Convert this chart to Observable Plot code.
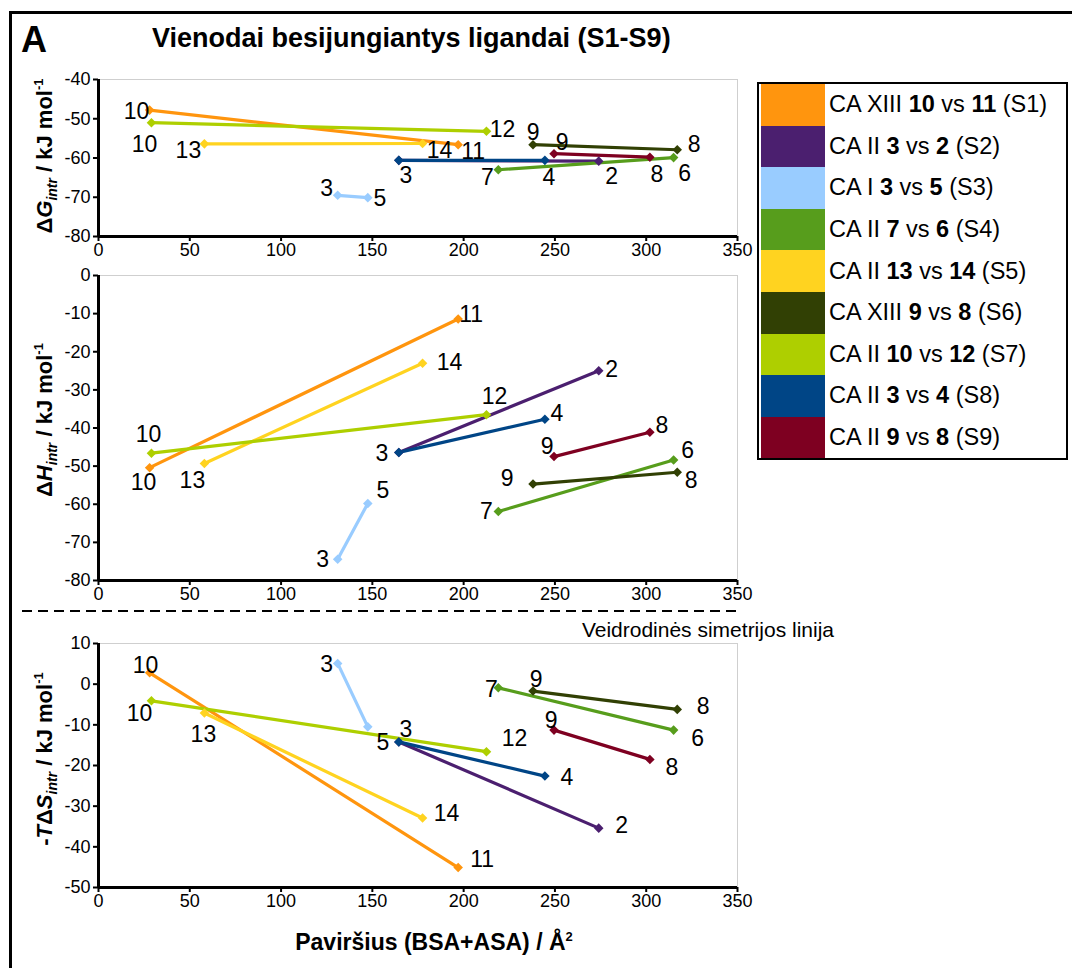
<!DOCTYPE html>
<html><head><meta charset="utf-8">
<script src="https://cdn.jsdelivr.net/npm/d3@7"></script>
<script src="https://cdn.jsdelivr.net/npm/@observablehq/plot@0.6"></script>
<style>
body{margin:0;background:#fff;font-family:"Liberation Sans",Arial,sans-serif;}
#fig{position:relative;width:1072px;height:968px;overflow:hidden;background:#fff;}
.abs{position:absolute;}
.ylab{position:absolute;font-weight:bold;font-size:22px;white-space:nowrap;transform:translate(-50%,-50%) rotate(-90deg);line-height:1;}
.sub{font-size:14px;position:relative;top:5px;font-style:italic;}
.sup{font-size:13px;position:relative;top:-9px;}
#legend{position:absolute;left:757px;top:82px;width:307px;border:2px solid #000;background:#fff;}
.lrow{display:flex;height:41.6px;align-items:center;}
.sw{width:64px;height:100%;margin-left:2px;}
.lt{font-size:23.5px;margin-left:4px;white-space:nowrap;}
</style>
</head><body>
<div id="fig">
  <div class="abs" style="left:9px;top:11px;width:1100px;height:1000px;border-left:3px solid #000;border-top:3px solid #000;"></div>
  <div class="abs" style="left:21px;top:22px;font-size:36px;font-weight:bold;line-height:1;">A</div>
  <div class="abs" style="left:152px;top:25px;font-size:27px;font-weight:bold;white-space:nowrap;line-height:1;">Vienodai besijungiantys ligandai (S1-S9)</div>
</div>
<script>
// ---- data ----
const seriesNames = ["S1","S2","S3","S4","S5","S6","S7","S8","S9"];
const enzymes     = ["CA XIII","CA II","CA I","CA II","CA II","CA XIII","CA II","CA II","CA II"];
const ligandFrom  = ["10","3","3","7","13","9","10","3","9"];
const ligandTo    = ["11","2","5","6","14","8","12","4","8"];
const areaFrom = [28, 164.5, 131, 219, 58, 238, 29, 164.5, 249.5];
const areaTo   = [197, 274, 147.5, 315, 177.5, 317, 212.5, 244.5, 302];
const dGFrom = [-47.8, -60.6, -69.5, -63.0, -56.4, -56.6, -51.0, -60.6, -58.9];
const dGTo   = [-56.6, -60.8, -70.1, -59.9, -56.3, -57.9, -53.2, -60.6, -59.8];
const dHFrom = [-50.4, -46.4, -74.4, -61.9, -49.3, -54.7, -46.6, -46.4, -47.5];
const dHTo   = [-11.4, -25.0, -59.8, -48.4, -23.0, -51.6, -36.5, -37.7, -41.1];
const tdsFrom = [2.8, -14.2, 5.1, -0.9, -7.1, -1.7, -4.1, -14.2, -11.3];
const tdsTo   = [-45.1, -35.4, -10.5, -11.3, -32.9, -6.2, -16.6, -22.6, -18.5];
const xTicks   = [0,50,100,150,200,250,300,350];
const dGTicks  = [-80,-70,-60,-50,-40];
const dHTicks  = [-80,-70,-60,-50,-40,-30,-20,-10,0];
const tdsTicks = [-50,-40,-30,-20,-10,0,10];

// ---- styles ----
const colors = ["#ff950e","#4b1f6f","#99ccff","#579d1c","#ffd320","#314004","#aecf00","#004586","#7e0021"];
// label offsets in px: [fromDx, fromDy, toDx, toDy]; null = label shared with another series
const offG = [[-13,2,15,7],[null,null,13,15],[-11,-7,12,1],[-11,8,11,16],[-16,7,17,7],[0,-12,17,-5],[-7,22,16,-2],[7,15,4,17],[8,-11,7,17]];
const offH = [[-6,15,13,-4],[null,null,13,-1],[-15,0,15,-13],[-12,0,14,-9],[-12,17,27,-1],[-26,-5,14,8],[-3,-19,8,-18],[-17,1,12,-6],[-7,-10,12,-7]];
const offS = [[-4,-7,24,-8],[null,null,23,-3],[-11,1,15,16],[-7,2,24,9],[-1,22,24,-4],[3,-11,26,-3],[-12,13,28,-13],[7,-12,22,2],[-3,-9,22,8]];

const fig = document.getElementById("fig");
const FONT = "Liberation Sans, Arial, sans-serif";

function panel(from, to, ticks, off, top, height, mt, mb) {
  const rows = [];
  seriesNames.forEach((s, i) => {
    rows.push({s, x: areaFrom[i], y: from[i], lab: ligandFrom[i], dx: off[i][0], dy: off[i][1]});
    rows.push({s, x: areaTo[i], y: to[i], lab: ligandTo[i], dx: off[i][2], dy: off[i][3]});
  });
  const labelled = rows.filter(r => r.dx !== null);
  const p = Plot.plot({
    width: 760, height, marginLeft: 98, marginRight: 23, marginTop: mt, marginBottom: mb,
    style: {background: "transparent", overflow: "visible", fontFamily: FONT, color: "black"},
    x: {domain: [0, 350]},
    y: {domain: [ticks[0], ticks[ticks.length - 1]]},
    color: {domain: seriesNames, range: colors},
    marks: [
      Plot.frame({stroke: "#cfcfcf", strokeWidth: 1}),
      Plot.line(rows, {x: "x", y: "y", z: "s", stroke: "s", strokeWidth: 3.2}),
      Plot.dot(rows, {x: "x", y: "y", fill: "s", symbol: "diamond2", r: 4.3}),
      ...labelled.map(r => Plot.text([r], {x: "x", y: "y", text: "lab", dx: r.dx, dy: r.dy, fontSize: 23, fill: "black"})),
      Plot.axisX({ticks: xTicks, tickSize: 5, tickPadding: 2, fontSize: 18, label: null, strokeWidth: 2}),
      Plot.axisY({ticks, tickSize: 5, tickPadding: 3, fontSize: 18, label: null, strokeWidth: 2, tickFormat: d => String(d)}),
      Plot.ruleX([0], {stroke: "black", strokeWidth: 3}),
      Plot.ruleY([ticks[0]], {stroke: "black", strokeWidth: 3})
    ]
  });
  p.style.position = "absolute";
  p.style.left = "0px";
  p.style.top = top + "px";
  fig.appendChild(p);
}

panel(dGFrom, dGTo, dGTicks, offG, 60, 206, 19, 30);
panel(dHFrom, dHTo, dHTicks, offH, 260, 350, 15, 30);
panel(tdsFrom, tdsTo, tdsTicks, offS, 625, 292, 18, 30);

// dashed mirror-symmetry line
const ns = "http://www.w3.org/2000/svg";
const ds = document.createElementNS(ns, "svg");
ds.setAttribute("width", 740); ds.setAttribute("height", 6);
ds.style.position = "absolute"; ds.style.left = "0px"; ds.style.top = "608px";
const ln = document.createElementNS(ns, "line");
ln.setAttribute("x1", 22); ln.setAttribute("x2", 740); ln.setAttribute("y1", 3); ln.setAttribute("y2", 3);
ln.setAttribute("stroke", "black"); ln.setAttribute("stroke-width", 2); ln.setAttribute("stroke-dasharray", "10,6");
ds.appendChild(ln); fig.appendChild(ds);

function addHTML(html) { const d = document.createElement("div"); d.innerHTML = html; while (d.firstChild) fig.appendChild(d.firstChild); }

addHTML(`<div class="abs" style="right:${1072-834}px;top:619px;font-size:21px;white-space:nowrap;line-height:1;">Veidrodinės simetrijos linija</div>`);
addHTML(`<div class="ylab" style="left:45px;top:156px;">Δ<i>G</i><span class="sub">intr</span> / kJ mol<span class="sup">-1</span></div>`);
addHTML(`<div class="ylab" style="left:45px;top:420px;">Δ<i>H</i><span class="sub">intr</span> / kJ mol<span class="sup">-1</span></div>`);
addHTML(`<div class="ylab" style="left:45px;top:759px;">-<i>T</i>Δ<i>S</i><span class="sub">intr</span> / kJ mol<span class="sup">-1</span></div>`);
addHTML(`<div class="abs" style="left:434px;top:942px;transform:translate(-50%,-50%);font-size:23px;font-weight:bold;white-space:nowrap;line-height:1;">Paviršius (BSA+ASA) / Å<span class="sup" style="top:-9px">2</span></div>`);

// legend
const leg = document.createElement("div");
leg.id = "legend";
seriesNames.forEach((s, i) => {
  leg.insertAdjacentHTML("beforeend",
    `<div class="lrow"><div class="sw" style="background:${colors[i]}"></div><div class="lt">${enzymes[i]} <b>${ligandFrom[i]}</b> vs <b>${ligandTo[i]}</b> (${s})</div></div>`);
});
fig.appendChild(leg);
</script>
</body></html>
